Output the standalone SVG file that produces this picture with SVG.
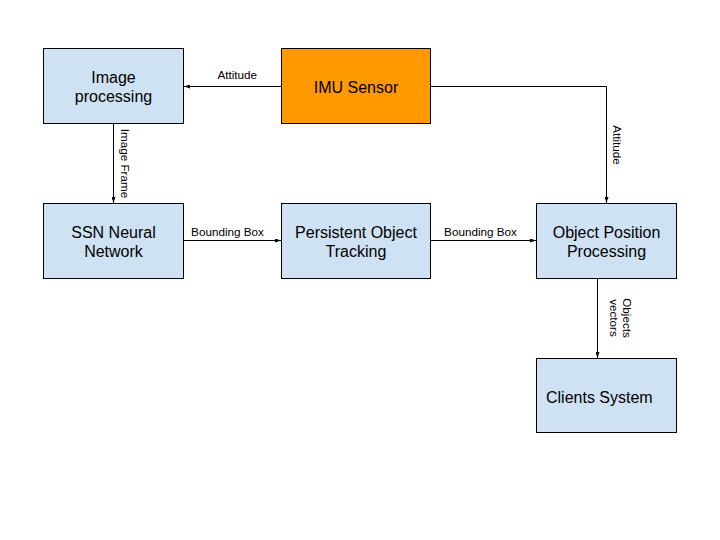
<svg xmlns="http://www.w3.org/2000/svg" width="720" height="540" viewBox="0 0 720 540">
  <style>
    .box { fill: #cfe2f3; stroke: #000; stroke-width: 1; }
    .imu { fill: #ff9900; stroke: #000; stroke-width: 1; }
    .t { font-family: "Liberation Sans", Arial, sans-serif; font-size: 16px; fill: #000; text-anchor: middle; }
    .l { font-family: "Liberation Sans", Arial, sans-serif; font-size: 11.7px; fill: #000; text-anchor: middle; }
    .c { fill: none; stroke: #000; stroke-width: 1; marker-end: url(#ah); }
  </style>
  <defs>
    <marker id="ah" viewBox="0 0 6 4" refX="6" refY="2" markerWidth="6" markerHeight="4" markerUnits="userSpaceOnUse" orient="auto">
      <path d="M0,0 L6,2 L0,4 Z" fill="#000"/>
    </marker>
  </defs>
  <rect width="720" height="540" fill="#fff"/>

  <g id="connectors">
    <path class="c" d="M281,86.5 L184,86.5"/>
    <path class="c" d="M113.5,123.5 L113.5,203"/>
    <path class="c" d="M183.5,240.5 L281,240.5"/>
    <path class="c" d="M430.5,240.5 L536,240.5"/>
    <path class="c" d="M430.5,86.5 L606.5,86.5 L606.5,203"/>
    <path class="c" d="M597.5,278.5 L597.5,358"/>
    <text class="l" x="237.3" y="79">Attitude</text>
    <text class="l" transform="translate(125,163.5) rotate(90)" y="4">Image Frame</text>
    <text class="l" x="227.5" y="236">Bounding Box</text>
    <text class="l" x="480.5" y="236">Bounding Box</text>
    <text class="l" transform="translate(616.7,145) rotate(90)" y="4">Attitude</text>
    <text class="l" transform="translate(620.5,318) rotate(90)"><tspan x="0" y="-2.4">Objects</tspan><tspan x="0" y="10.4">vectors</tspan></text>
  </g>

  <g id="image-processing">
    <rect class="box" x="43.5" y="48.5" width="140" height="75"/>
    <text class="t" x="113.5" y="83">Image</text>
    <text class="t" x="113.5" y="102">processing</text>
  </g>
  <g id="imu-sensor">
    <rect class="imu" x="281.5" y="48.5" width="149" height="75"/>
    <text class="t" x="356" y="92.5">IMU Sensor</text>
  </g>
  <g id="ssn-neural-network">
    <rect class="box" x="43.5" y="203.5" width="140" height="75"/>
    <text class="t" x="113.5" y="238">SSN Neural</text>
    <text class="t" x="113.5" y="257">Network</text>
  </g>
  <g id="persistent-object-tracking">
    <rect class="box" x="281.5" y="203.5" width="149" height="75"/>
    <text class="t" x="356" y="238">Persistent Object</text>
    <text class="t" x="356" y="257">Tracking</text>
  </g>
  <g id="object-position-processing">
    <rect class="box" x="536.5" y="203.5" width="140" height="75"/>
    <text class="t" x="606.5" y="238">Object Position</text>
    <text class="t" x="606.5" y="257">Processing</text>
  </g>
  <g id="clients-system">
    <rect class="box" x="536.5" y="358.5" width="140" height="74"/>
    <text class="t" x="546" y="402.5" style="text-anchor:start">Clients System</text>
  </g>
</svg>
